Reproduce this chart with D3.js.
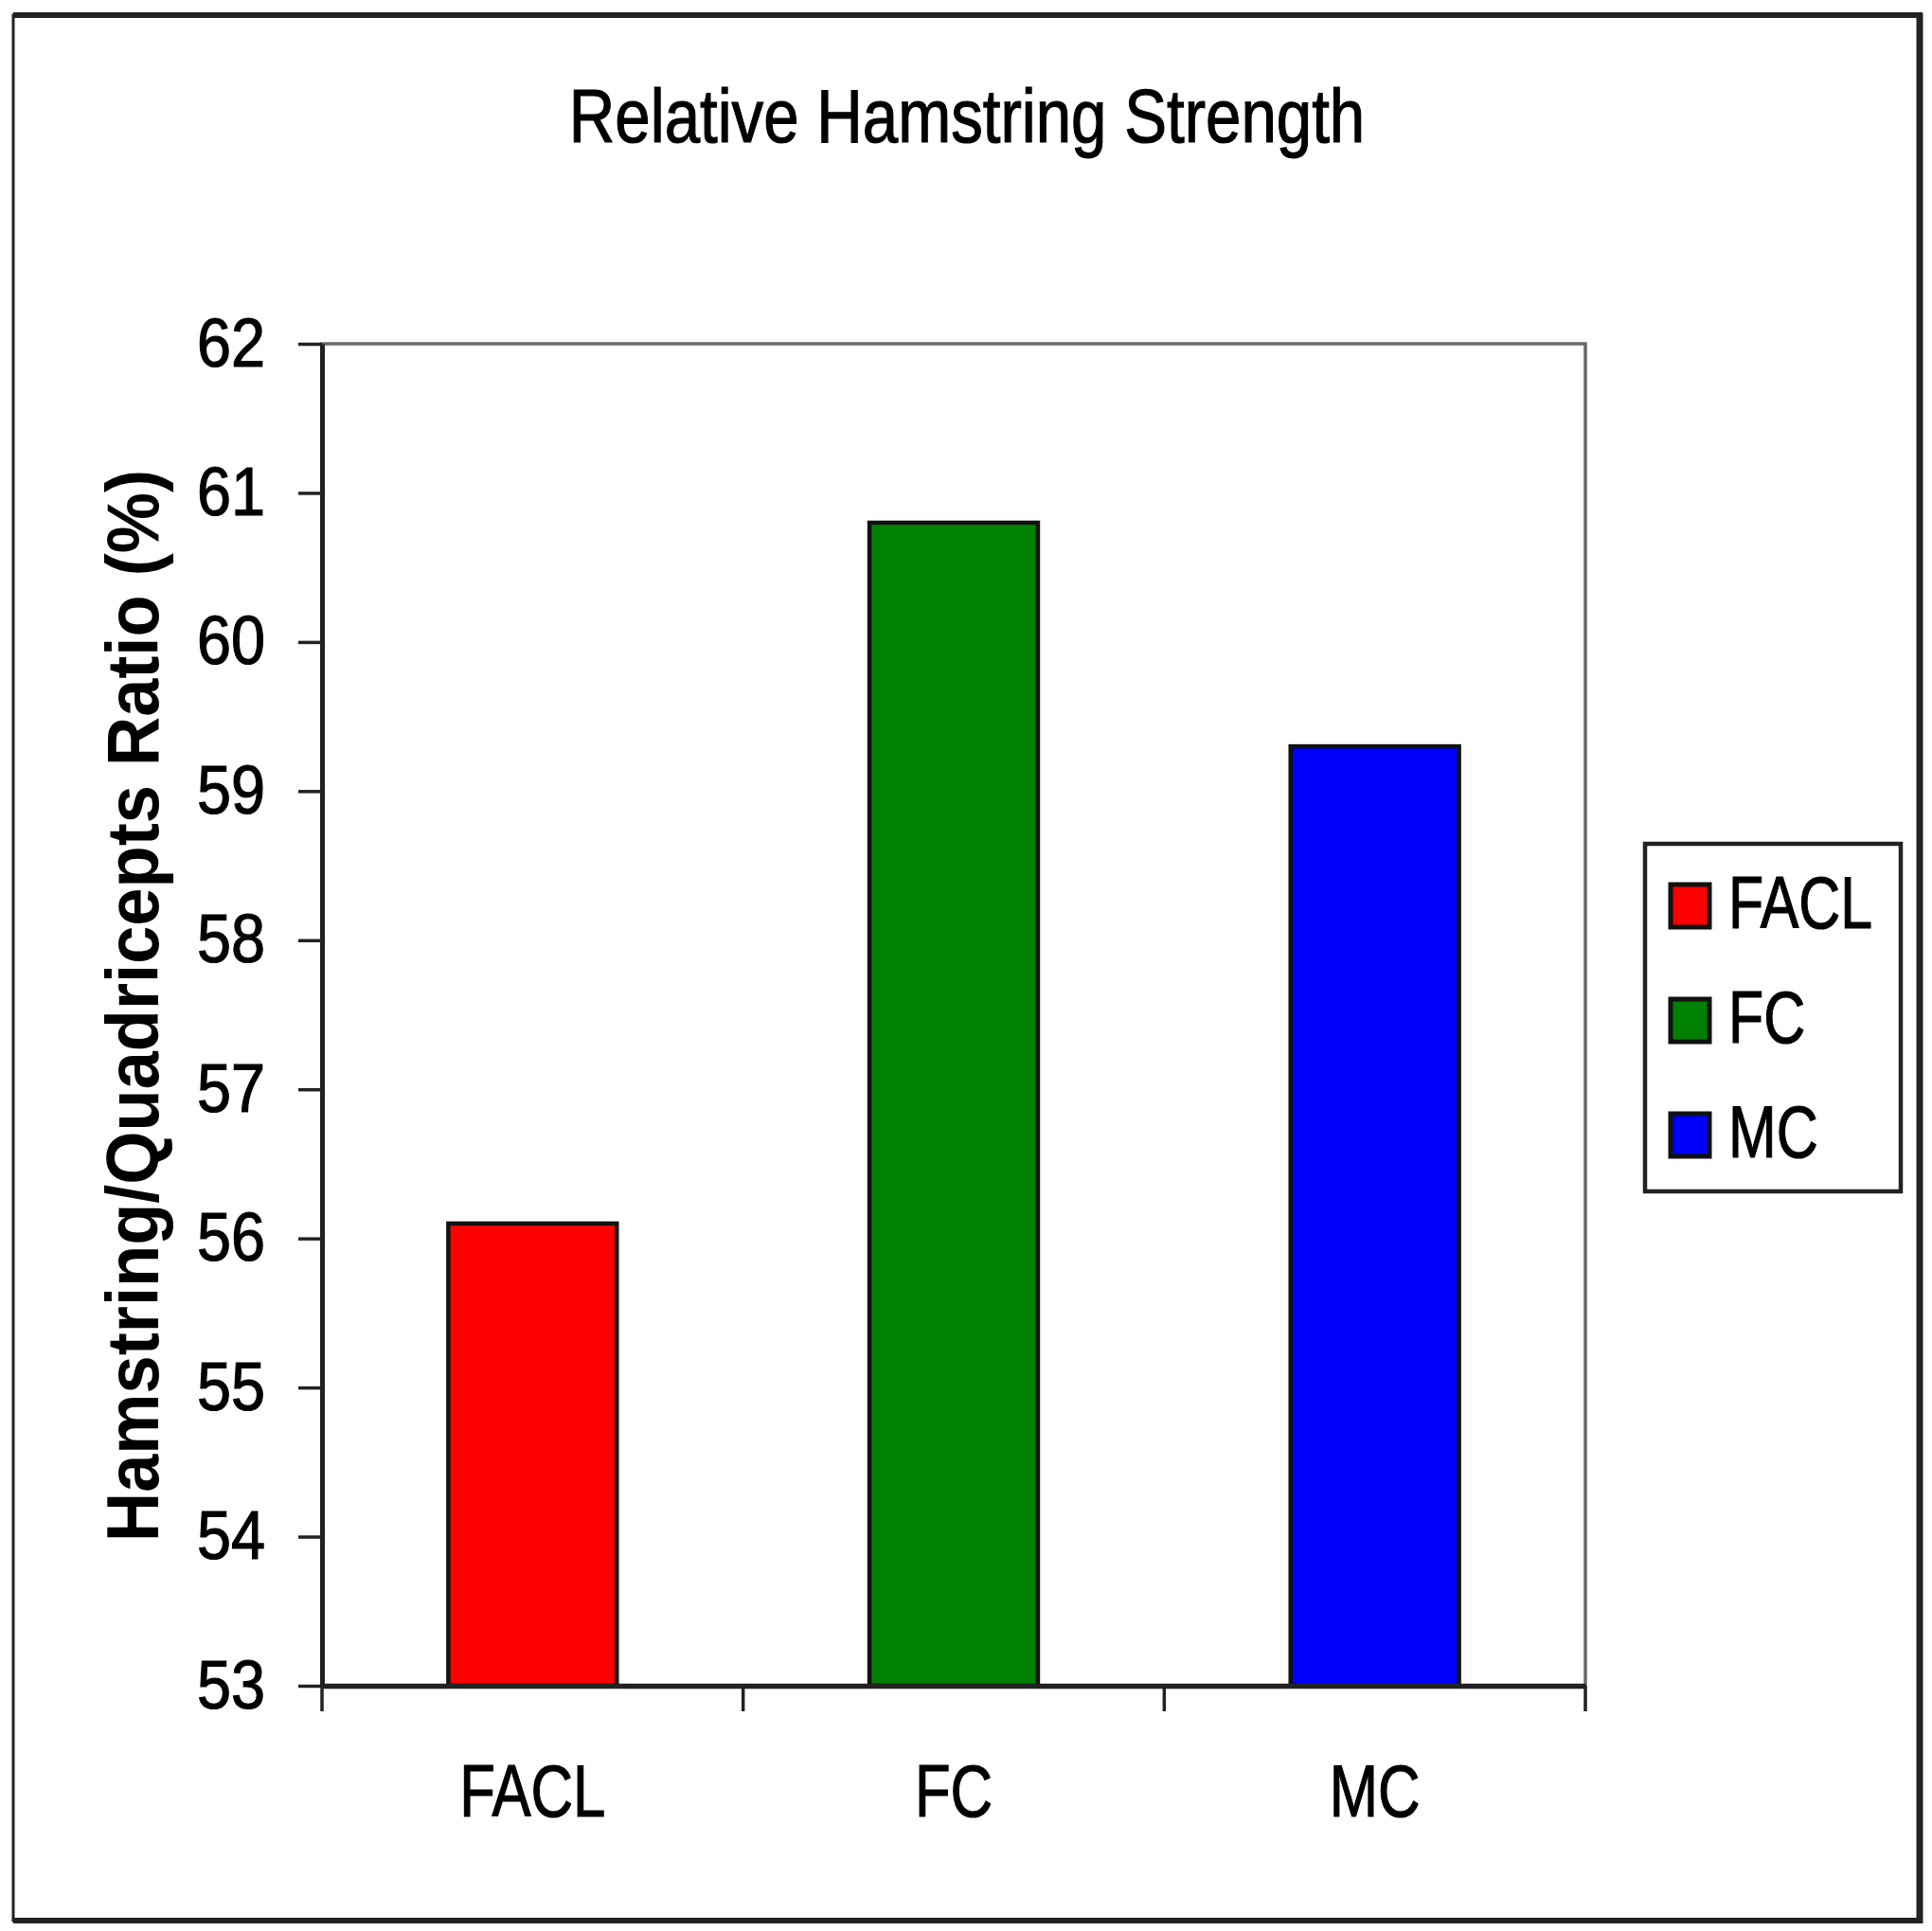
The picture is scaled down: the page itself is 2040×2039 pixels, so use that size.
<!DOCTYPE html>
<html>
<head>
<meta charset="utf-8">
<script src="https://cdn.jsdelivr.net/npm/d3@7"></script>
<style>
  html, body { margin: 0; padding: 0; background: #ffffff; }
  text { font-family: "Liberation Sans", Arial, sans-serif; fill: #000; }
  .heavy { stroke: #000; stroke-width: 1.2px; }
</style>
</head>
<body>
<div id="chart"></div>
<script>
const categories = ['FACL', 'FC', 'MC'];
const ratioValues = [56.1, 60.8, 59.3];
const barColors = ['#ff0000', '#008000', '#0000ff'];
const yTicks = [53, 54, 55, 56, 57, 58, 59, 60, 61, 62];

const W = 2040, H = 2039;
const margin = {top: 363, right: 366, bottom: 259, left: 340},
      width = W - margin.left - margin.right,
      height = H - margin.top - margin.bottom;

const svg = d3.select('#chart').append('svg')
    .attr('width', W)
    .attr('height', H);

// squeeze text horizontally, the original font is a narrow one
function condense(sel, k) {
  sel.each(function() {
    const w = this.getComputedTextLength();
    d3.select(this).attr('textLength', w * k).attr('lengthAdjust', 'spacingAndGlyphs');
  });
}

// outer frame with its heavy top / right / bottom edges
svg.append('rect')
    .attr('x', 14).attr('y', 16)
    .attr('width', 2013).attr('height', 2012)
    .attr('fill', '#fff')
    .attr('stroke', '#222').attr('stroke-width', 3);
svg.append('line').attr('x1', 14).attr('x2', 2030).attr('y1', 16).attr('y2', 16)
    .attr('stroke', '#222').attr('stroke-width', 6);
svg.append('line').attr('x1', 2027).attr('x2', 2027).attr('y1', 14).attr('y2', 2031)
    .attr('stroke', '#222').attr('stroke-width', 7);
svg.append('line').attr('x1', 14).attr('x2', 2030).attr('y1', 2028).attr('y2', 2028)
    .attr('stroke', '#222').attr('stroke-width', 6);

const title = svg.append('text')
    .attr('class', 'heavy')
    .attr('x', 1021).attr('y', 150)
    .style('font-size', '80px')
    .style('text-anchor', 'middle')
    .text('Relative Hamstring Strength');
condense(title, 0.84);

const wrapper = svg.append('g')
    .attr('transform', 'translate(' + margin.left + ',' + margin.top + ')');

const xScale = d3.scaleBand().domain(categories).range([0, width])
    .paddingInner(0.6).paddingOuter(0.3);
const yScale = d3.scaleLinear().domain([53, 62]).range([height, 0]);

// plot frame (top and right edges)
wrapper.append('rect')
    .attr('width', width).attr('height', height)
    .attr('fill', 'none')
    .attr('stroke', '#6a6a6a').attr('stroke-width', 3.5);

wrapper.selectAll('.bar')
    .data(categories)
  .enter().append('rect')
    .attr('class', 'bar')
    .attr('x', d => xScale(d))
    .attr('width', xScale.bandwidth())
    .attr('y', (d, i) => yScale(ratioValues[i]))
    .attr('height', (d, i) => height - yScale(ratioValues[i]))
    .attr('fill', (d, i) => barColors[i])
    .attr('stroke', '#111')
    .attr('stroke-width', 4.5);

// y axis
const yAxis = wrapper.append('g')
    .call(d3.axisLeft(yScale).tickValues(yTicks).tickFormat(d3.format('d'))
      .tickSize(25).tickSizeOuter(0).tickPadding(35));
yAxis.select('.domain').attr('stroke', '#222').attr('stroke-width', 5);
yAxis.selectAll('.tick line').attr('stroke', '#222').attr('stroke-width', 3.5);
yAxis.selectAll('.tick text')
    .attr('class', 'heavy')
    .style('font-size', '72px')
    .style('font-family', '"Liberation Sans", Arial, sans-serif')
    .attr('fill', '#000');
condense(yAxis.selectAll('.tick text'), 0.9);

// x axis: labels under band centres, ticks on band boundaries
const xAxis = wrapper.append('g')
    .attr('transform', 'translate(0,' + height + ')')
    .call(d3.axisBottom(xScale).tickSize(0).tickPadding(0));
xAxis.select('.domain').attr('stroke', '#222').attr('stroke-width', 5.5);
xAxis.selectAll('.tick text')
    .attr('class', 'heavy')
    .attr('y', 138).attr('dy', null)
    .style('font-size', '78px')
    .style('font-family', '"Liberation Sans", Arial, sans-serif')
    .attr('fill', '#000');
condense(xAxis.selectAll('.tick text'), 0.79);

const step = xScale.step();
const bounds = d3.range(categories.length + 1).map(i => i * step);
xAxis.selectAll('.bound')
    .data(bounds)
  .enter().append('line')
    .attr('class', 'bound')
    .attr('x1', d => d).attr('x2', d => d)
    .attr('y1', 0).attr('y2', 27)
    .attr('stroke', '#222').attr('stroke-width', 3.5);

const yLabel = svg.append('text')
    .attr('transform', 'rotate(-90)')
    .attr('x', -1062).attr('y', 167)
    .style('font-size', '78px')
    .style('font-weight', 'bold')
    .style('text-anchor', 'middle')
    .text('Hamstring/Quadricepts Ratio (%)');
yLabel.attr('textLength', 1132).attr('lengthAdjust', 'spacingAndGlyphs');

// legend
const legend = svg.append('g');
legend.append('rect')
    .attr('x', 1737).attr('y', 891)
    .attr('width', 270).attr('height', 367)
    .attr('fill', '#fff')
    .attr('stroke', '#222').attr('stroke-width', 4.5);

const items = legend.selectAll('.item')
    .data(categories)
  .enter().append('g')
    .attr('class', 'item')
    .attr('transform', (d, i) => 'translate(1763,' + (980 + i * 121) + ')');

items.append('rect')
    .attr('x', 1).attr('y', -46)
    .attr('width', 41).attr('height', 45)
    .attr('fill', (d, i) => barColors[i])
    .attr('stroke', '#111').attr('stroke-width', 5);

const legendText = items.append('text')
    .attr('class', 'heavy')
    .attr('x', 62).attr('y', 0)
    .style('font-size', '77px')
    .text(d => d);
condense(legendText, 0.79);
</script>
</body>
</html>
